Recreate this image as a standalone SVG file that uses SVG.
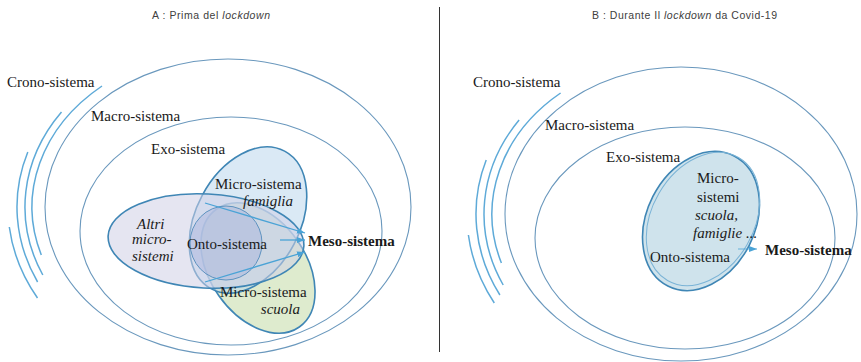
<svg xmlns="http://www.w3.org/2000/svg" width="861" height="362" viewBox="0 0 861 362">
<style>
.bg{fill:#ffffff}
.title{font-family:"Liberation Sans","DejaVu Sans",sans-serif;font-size:10.5px;fill:#404040}
.lbl{font-family:"Liberation Serif","DejaVu Serif",serif;font-size:15px;fill:#1a1a1a}
.it{font-style:italic}
.bold{font-weight:bold}
.ring{fill:none;stroke:#6a98bd;stroke-width:1.1}
.crono{fill:none;stroke:#5eaad8;stroke-width:1.5}
.micro{stroke:#3f86b5;stroke-width:1.6}
.conn{fill:none;stroke:#4aa3d6;stroke-width:1.3}
.div{stroke:#333333;stroke-width:1}
</style>
<defs>
<marker id="ah" viewBox="0 0 8 6" refX="8" refY="3" markerWidth="8" markerHeight="6" markerUnits="userSpaceOnUse" orient="auto">
<path d="M0,0 L8,3 L0,6 z" fill="#4aa3d6"/>
</marker>
</defs>
<rect class="bg" x="0" y="0" width="861" height="362"/>

<line class="div" x1="439.5" y1="7" x2="439.5" y2="352"/>

<text class="title" x="152" y="19" textLength="118" lengthAdjust="spacing">A : Prima del <tspan class="it">lockdown</tspan></text>
<text class="title" x="592" y="19" textLength="185" lengthAdjust="spacing">B : Durante Il <tspan class="it">lockdown</tspan> da Covid-19</text>

<!-- Panel A -->
<g id="a-crono">
<path class="crono" d="M102,86 A196,158 0 0 0 41.3,255"/>
<path class="crono" d="M61.5,112 A203,166 0 0 0 42.8,275"/>
<path class="crono" d="M27.8,152 A211,174 0 0 0 37.6,282"/>
<path class="crono" d="M9.3,227 A220,182 0 0 0 37.5,298"/>
<text class="lbl" x="7" y="87">Crono-sistema</text>
</g>
<g id="a-macro">
<ellipse class="ring" cx="228" cy="207" rx="183" ry="148"/>
<text class="lbl" x="91" y="121">Macro-sistema</text>
</g>
<g id="a-exo">
<ellipse class="ring" cx="231" cy="231" rx="151" ry="114"/>
<text class="lbl" x="151" y="154">Exo-sistema</text>
</g>
<g id="a-scuola">
<ellipse class="micro" cx="258" cy="268" rx="72" ry="48" transform="rotate(55 258 268)" fill="#c9deb0" fill-opacity="0.62"/>
</g>
<g id="a-famiglia">
<ellipse class="micro" cx="248" cy="220" rx="78" ry="52" transform="rotate(-62 248 220)" fill="#bcd7ec" fill-opacity="0.55"/>
</g>
<g id="a-altri">
<ellipse class="micro" cx="206" cy="241" rx="98" ry="47" transform="rotate(3 206 241)" fill="#cfcfe6" fill-opacity="0.55"/>
</g>
<g id="a-onto">
<ellipse cx="226" cy="243" rx="36" ry="37" fill="#a9b5de" fill-opacity="0.5" stroke="#5f93c0" stroke-width="1"/>
</g>
<g id="a-labels">
<text class="lbl" x="215" y="189">Micro-sistema</text>
<text class="lbl it" x="293" y="206" text-anchor="end">famiglia</text>
<text class="lbl it" x="137" y="229">Altri</text>
<text class="lbl it" x="132" y="244">micro-</text>
<text class="lbl it" x="132" y="261">sistemi</text>
<text class="lbl" x="187" y="249">Onto-sistema</text>
<text class="lbl" x="220" y="297">Micro-sistema</text>
<text class="lbl it" x="300" y="314" text-anchor="end">scuola</text>
</g>
<g id="a-meso">
<text class="lbl bold" x="308" y="246">Meso-sistema</text>
</g>

<!-- Panel B -->
<g id="b-crono">
<path class="crono" d="M560.6,93 A189,157 0 0 0 501.4,263"/>
<path class="crono" d="M519.1,120 A197,165 0 0 0 503.2,285"/>
<path class="crono" d="M486.2,160 A205,173 0 0 0 499.9,295"/>
<path class="crono" d="M468.4,235 A214,182 0 0 0 494.3,303"/>
<text class="lbl" x="473" y="87">Crono-sistema</text>
</g>
<g id="b-macro">
<ellipse class="ring" cx="681" cy="214" rx="176" ry="147"/>
<text class="lbl" x="545" y="130">Macro-sistema</text>
</g>
<g id="b-exo">
<ellipse class="ring" cx="685" cy="238" rx="150" ry="111"/>
<text class="lbl" x="606" y="162">Exo-sistema</text>
</g>
<g id="b-micro-onto">
<ellipse class="micro" cx="701" cy="221" rx="73" ry="54" transform="rotate(-63 701 221)" fill="#cfe3ec"/>
<ellipse cx="703" cy="219" rx="71" ry="51" transform="rotate(-60 703 219)" fill="none" stroke="#7ab3d6" stroke-width="1"/>
<text class="lbl" x="697" y="183">Micro-</text>
<text class="lbl" x="697" y="202">sistemi</text>
<text class="lbl it" x="695" y="220">scuola,</text>
<text class="lbl it" x="693" y="238">famiglie ...</text>
<text class="lbl" x="650" y="262">Onto-sistema</text>
</g>
<g id="b-meso">
<text class="lbl bold" x="765" y="255">Meso-sistema</text>
</g>

<g id="connectors">
<path class="conn" d="M205,203 L305,233" marker-end="url(#ah)"/>
<path class="conn" d="M280,240 L305,240" marker-end="url(#ah)"/>
<path class="conn" d="M205,282 L305,252" marker-end="url(#ah)"/>
<path class="conn" d="M738,249 L757,249" stroke-opacity="0.6" marker-end="url(#ah)"/>
</g>
</svg>
